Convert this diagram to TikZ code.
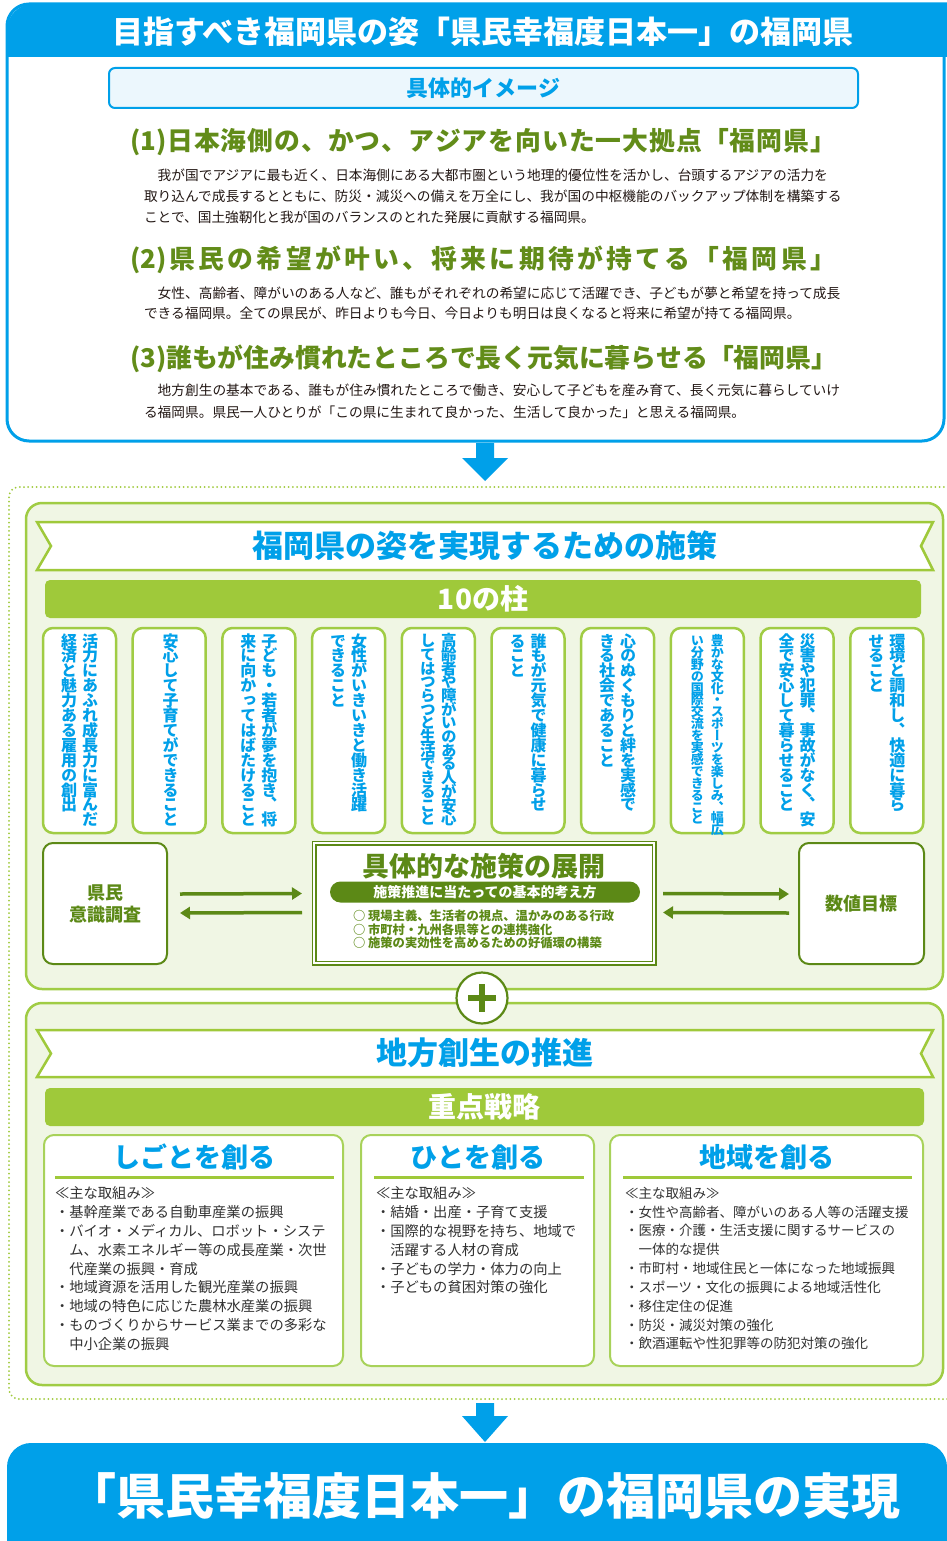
\documentclass[tikz,border=0pt]{standalone}
\usepackage{fontspec}
\setmainfont{Noto Sans CJK JP}
\newfontfamily\vjp{Noto Sans CJK JP}[RawFeature=+vert]
\usetikzlibrary{arrows.meta,calc}
\definecolor{fblue}{RGB}{0,160,233}
\definecolor{lblue}{RGB}{236,247,253}
\definecolor{hgreen}{RGB}{98,140,25}
\definecolor{dgreen}{RGB}{92,137,22}
\definecolor{barg}{RGB}{159,201,58}
\definecolor{pilg}{RGB}{160,204,68}
\definecolor{pang}{RGB}{160,204,68}
\definecolor{panf}{RGB}{240,246,228}
\definecolor{lboxg}{RGB}{168,210,90}
\definecolor{tdark}{RGB}{35,24,21}
\definecolor{ltext}{RGB}{50,50,50}
\newcommand\fsz[1]{\fontsize{#1}{#1}\selectfont}
\newcommand\fszb[2]{\fontsize{#1}{#2}\selectfont}
\newdimen\vtgap \vtgap=-1.1pt
\newdimen\vtcolw \vtcolw=21pt
\newif\ifvthalf
\makeatletter
\def\vtfull#1{\hbox to\vtcolw{\hss\vrule height .88em depth .12em width 0pt\smash{#1}\hss}\vskip\vtgap}
\def\vthrow#1{\hbox to\vtcolw{\hss\vrule height .88em depth -.38em width 0pt\smash{#1}\hss}\vskip\vtgap}
\def\vtrow#1{\ifvthalf\ifx#1、\vthrow{#1}\else\vtfull{#1}\fi\else\vtfull{#1}\fi}
\def\vtloop#1{\ifx#1\@nil\else\vtrow{#1}\expandafter\vtloop\fi}
\newcommand\vcol[1]{\vtop{\offinterlineskip\vtloop#1\@nil}}
\def\spreadloop#1{\ifx#1\@nil\else\hfil#1\expandafter\spreadloop\fi}
\newcommand\spreadto[3]{\hbox to #1{#2\spreadloop#3\@nil}}
\makeatother
\begin{document}
\begin{tikzpicture}[x=1pt,y=-1pt,
 every node/.style={inner sep=0pt, outer sep=0pt},
 bodyt/.style={anchor=west, text=tdark, font=\fsz{13.7}},
 headt/.style={anchor=west, text=hgreen, font=\bfseries\fsz{25.8}},
 panel/.style={draw=pang, line width=2.5pt, fill=panf, rounded corners=16pt, minimum width=917pt},
 ribbon/.style={draw=barg, line width=2.5pt, fill=white},
 rtitle/.style={text=fblue, font=\bfseries\fsz{31}},
 bar/.style={fill=barg, rounded corners=5pt, text=white, font=\bfseries\fsz{28}, minimum height=38pt},
 pillar/.style={draw=pilg, line width=2.5pt, fill=white, rounded corners=10pt, minimum width=73pt, minimum height=205pt},
 vt/.style={anchor=north, text=fblue, font=\vjp\bfseries\fsz{16}},
 sidebox/.style={draw=dgreen, line width=2pt, fill=white, rounded corners=10pt, minimum width=124pt, minimum height=121pt, text=dgreen, font=\bfseries\fszb{18}{22}, align=center},
 garrow/.style={draw=dgreen, line width=3.5pt, -{Triangle[length=10pt,width=12pt]}},
 cline/.style={anchor=west, text=dgreen, font=\bfseries\fsz{12.3}},
 lbox/.style={draw=lboxg, line width=2pt, fill=white, rounded corners=10pt, minimum height=231pt},
 ltitle/.style={text=fblue, font=\bfseries\fsz{27}},
 uline/.style={draw=barg, line width=3pt},
 listt/.style={anchor=west, text=ltext, font=\fsz{14.3}},
 listc/.style={anchor=west, text=ltext, font=\fsz{13.5}},
 barrow/.style={fill=fblue}
]
\useasboundingbox (0,0) rectangle (947,1541);
\fill[white] (0,0) rectangle (947,1541);
% ---------- top box ----------
\fill[fblue, rounded corners=26pt] (7,4) rectangle (990,57);
\fill[fblue] (7,30) rectangle (990,57);
\draw[fblue, line width=3pt, rounded corners=22pt] (944,40) -- (944,441) -- (7,441) -- (7,4) -- (990,4);
\node[text=white, font=\bfseries\fsz{31}] (ttl) at (483,32) {目指すべき福岡県の姿「県民幸福度日本一」の福岡県};
\node[draw=fblue, line width=2pt, fill=lblue, rounded corners=6pt, minimum width=749pt, minimum height=40pt, text=fblue, font=\bfseries\fsz{22}] (kimg) at (483.5,88) {具体的イメージ};
\node[headt] (h1) at (130,142) {\spreadto{706pt}{(1)}{日本海側の、かつ、アジアを向いた一大拠点「福岡県」}};
\node[bodyt] (b11) at (144,175) {　我が国でアジアに最も近く、日本海側にある大都市圏という地理的優位性を活かし、台頭するアジアの活力を};
\node[bodyt] (b12) at (144,196) {取り込んで成長するとともに、防災・減災への備えを万全にし、我が国の中枢機能のバックアップ体制を構築する};
\node[bodyt] (b13) at (144,217) {ことで、国土強靭化と我が国のバランスのとれた発展に貢献する福岡県。};
\node[headt] (h2) at (130,260) {\spreadto{706pt}{(2)}{県民の希望が叶い、将来に期待が持てる「福岡県」}};
\node[bodyt] (b21) at (144,293) {　女性、高齢者、障がいのある人など、誰もがそれぞれの希望に応じて活躍でき、子どもが夢と希望を持って成長};
\node[bodyt] (b22) at (144,313) {できる福岡県。全ての県民が、昨日よりも今日、今日よりも明日は良くなると将来に希望が持てる福岡県。};
\node[headt] (h3) at (130,359) {\spreadto{706pt}{(3)}{誰もが住み慣れたところで長く元気に暮らせる「福岡県」}};
\node[bodyt] (b31) at (144,390) {　地方創生の基本である、誰もが住み慣れたところで働き、安心して子どもを産み育て、長く元気に暮らしていけ};
\node[bodyt] (b32) at (144,412) {る福岡県。県民一人ひとりが「この県に生まれて良かった、生活して良かった」と思える福岡県。};
% top arrow
\fill[barrow] (476,443) -- (494,443) -- (494,458) -- (508,458) -- (485,481) -- (462,458) -- (476,458) -- cycle;
% ---------- dotted frame ----------
\draw[barg, line width=2pt, line cap=round, dash pattern=on 0pt off 4.2pt, rounded corners=10pt] (990,487) -- (9,487) -- (9,1399) -- (990,1399);
% ---------- panel 1 ----------
\node[panel, minimum height=486pt] (pan1) at (484.5,746) {};
\draw[ribbon] (37,522) -- (933,522) -- (921,546) -- (933,570) -- (37,570) -- (51,546) -- cycle;
\node[rtitle] (rt1) at (485,546) {福岡県の姿を実現するための施策};
\node[bar, minimum width=876pt] (bar1) at (483,599) {10の柱};
% pillars
\node[pillar] (p1) at (79.5,730.5) {};
\node[pillar] (p2) at (169.2,730.5) {};
\node[pillar] (p3) at (258.9,730.5) {};
\node[pillar] (p4) at (348.6,730.5) {};
\node[pillar] (p5) at (438.3,730.5) {};
\node[pillar] (p6) at (528,730.5) {};
\node[pillar] (p7) at (617.7,730.5) {};
\node[pillar] (p8) at (707.4,730.5) {};
\node[pillar] (p9) at (797.1,730.5) {};
\node[pillar] (p10) at (886.8,730.5) {};
\node[vt] (t1) at (79.5,633) {\hbox{\vcol{経済と魅力ある雇用の創出}\vcol{活力にあふれ成長力に富んだ}}};
\node[vt] (t2) at (170.5,633) {\hbox{\vcol{安心して子育てができること}}};
\node[vt] (t3) at (258.9,633) {\hbox{\vcol{来に向かってはばたけること}\vcol{子ども・若者が夢を抱き、将}}};
\node[vt] (t4) at (348.6,633) {\hbox{\vcol{できること}\vcol{女性がいきいきと働き活躍}}};
\node[vt, font=\vjp\bfseries\fsz{15.5}] (t5) at (438.3,633) {\vtgap=-1.8pt\relax\hbox{\vcol{してはつらつと生活できること}\vcol{高齢者や障がいのある人が安心}}};
\node[vt] (t6) at (528,633) {\hbox{\vcol{ること}\vcol{誰もが元気で健康に暮らせ}}};
\node[vt] (t7) at (617.7,633) {\hbox{\vcol{きる社会であること}\vcol{心のぬくもりと絆を実感で}}};
\node[vt, font=\vjp\bfseries\fsz{13}] (t8) at (707.4,634) {\vthalftrue\vtgap=-1.1pt\relax\vtcolw=20pt\relax\hbox{\vcol{い分野の国際交流を実感できること}\vcol{豊かな文化・スポーツを楽しみ、幅広}}};
\node[vt] (t9) at (797.1,633) {\hbox{\vcol{全で安心して暮らせること}\vcol{災害や犯罪、事故がなく、安}}};
\node[vt] (t10) at (886.8,633) {\hbox{\vcol{せること}\vcol{環境と調和し、快適に暮ら}}};
% lower row
\node[sidebox] (ken) at (105,903.5) {県民\\意識調査};
\node[sidebox, minimum width=125pt] (num) at (861.5,903.5) {数値目標};
\node[draw=dgreen, line width=1.4pt, double=white, double distance=2.2pt, fill=white, minimum width=340pt, minimum height=120pt] (cbox) at (484,903) {};
\node[text=dgreen, font=\bfseries\fsz{27}] (ctitle) at (484,866) {具体的な施策の展開};
\node[fill=dgreen, rounded corners=10.5pt, minimum width=310pt, minimum height=21pt, text=white, font=\bfseries\fsz{14}] (cpill) at (485,892) {施策推進に当たっての基本的考え方};
\node[cline] (c1) at (353,916) {○ 現場主義、生活者の視点、温かみのある行政};
\node[cline] (c2) at (353,929.5) {○ 市町村・九州各県等との連携強化};
\node[cline] (c3) at (353,943) {○ 施策の実効性を高めるための好循環の構築};
\draw[garrow] ($(ken.east)+(13,-9.5)$) -- ($(cbox.west)+(-12,-9.5)$);
\draw[garrow] ($(cbox.west)+(-12,9.5)$) -- ($(ken.east)+(13,9.5)$);
\draw[garrow] ($(cbox.east)+(9,-9.5)$) -- ($(num.west)+(-10,-9.5)$);
\draw[garrow] ($(num.west)+(-10,9.5)$) -- ($(cbox.east)+(9,9.5)$);
% ---------- panel 2 ----------
\node[panel, minimum height=382pt] (pan2) at (484.5,1194) {};
\node[circle, draw=dgreen, line width=2.2pt, fill=white, minimum size=51pt] (plus) at (482,998) {};
\draw[dgreen, line width=5.5pt] ($(plus)+(-14,0)$) -- ($(plus)+(14,0)$);
\draw[dgreen, line width=5.5pt] ($(plus)+(0,-14)$) -- ($(plus)+(0,14)$);
\draw[ribbon] (37,1030) -- (933,1030) -- (921,1053.5) -- (933,1077) -- (37,1077) -- (51,1053.5) -- cycle;
\node[rtitle] (rt2) at (485,1053) {地方創生の推進};
\node[bar, minimum width=879pt] (bar2) at (484.5,1107) {重点戦略};
\node[lbox, minimum width=299pt] (ba) at (193.5,1250.5) {};
\node[lbox, minimum width=233pt] (bb) at (477.5,1250.5) {};
\node[lbox, minimum width=313pt] (bc) at (766.5,1250.5) {};
\node[ltitle] (ta) at (194,1157) {しごとを創る};
\node[ltitle] (tb) at (478,1157) {ひとを創る};
\node[ltitle] (tc) at (767,1157) {地域を創る};
\draw[uline] (55,1177) -- (334,1177);
\draw[uline] (374,1177) -- (584,1177);
\draw[uline] (623,1177) -- (912,1177);
\foreach \t [count=\i from 0] in {≪主な取組み≫,・基幹産業である自動車産業の振興,・バイオ・メディカル、ロボット・システ,　ム、水素エネルギー等の成長産業・次世,　代産業の振興・育成,・地域資源を活用した観光産業の振興,・地域の特色に応じた農林水産業の振興,・ものづくりからサービス業までの多彩な,　中小企業の振興}
  \node[listt] (la\i) at (55,1193+18.9*\i) {\t};
\foreach \t [count=\i from 0] in {≪主な取組み≫,・結婚・出産・子育て支援,・国際的な視野を持ち、地域で,　活躍する人材の育成,・子どもの学力・体力の向上,・子どもの貧困対策の強化}
  \node[listt] (lb\i) at (376,1193+18.9*\i) {\t};
\foreach \t [count=\i from 0] in {≪主な取組み≫,・女性や高齢者、障がいのある人等の活躍支援,・医療・介護・生活支援に関するサービスの,　一体的な提供,・市町村・地域住民と一体になった地域振興,・スポーツ・文化の振興による地域活性化,・移住定住の促進,・防災・減災対策の強化,・飲酒運転や性犯罪等の防犯対策の強化}
  \node[listc] (lc\i) at (625,1193+18.85*\i) {\t};
% bottom arrow
\fill[barrow] (476,1403) -- (494,1403) -- (494,1416) -- (508,1416) -- (485,1442) -- (462,1416) -- (476,1416) -- cycle;
% ---------- bottom box ----------
\fill[fblue, rounded corners=24pt] (7,1443) rectangle (947,1600);
\node[text=white, font=\bfseries\fsz{49}] (fin) at (484,1496) {「県民幸福度日本一」の福岡県の実現};
\end{tikzpicture}
\end{document}
